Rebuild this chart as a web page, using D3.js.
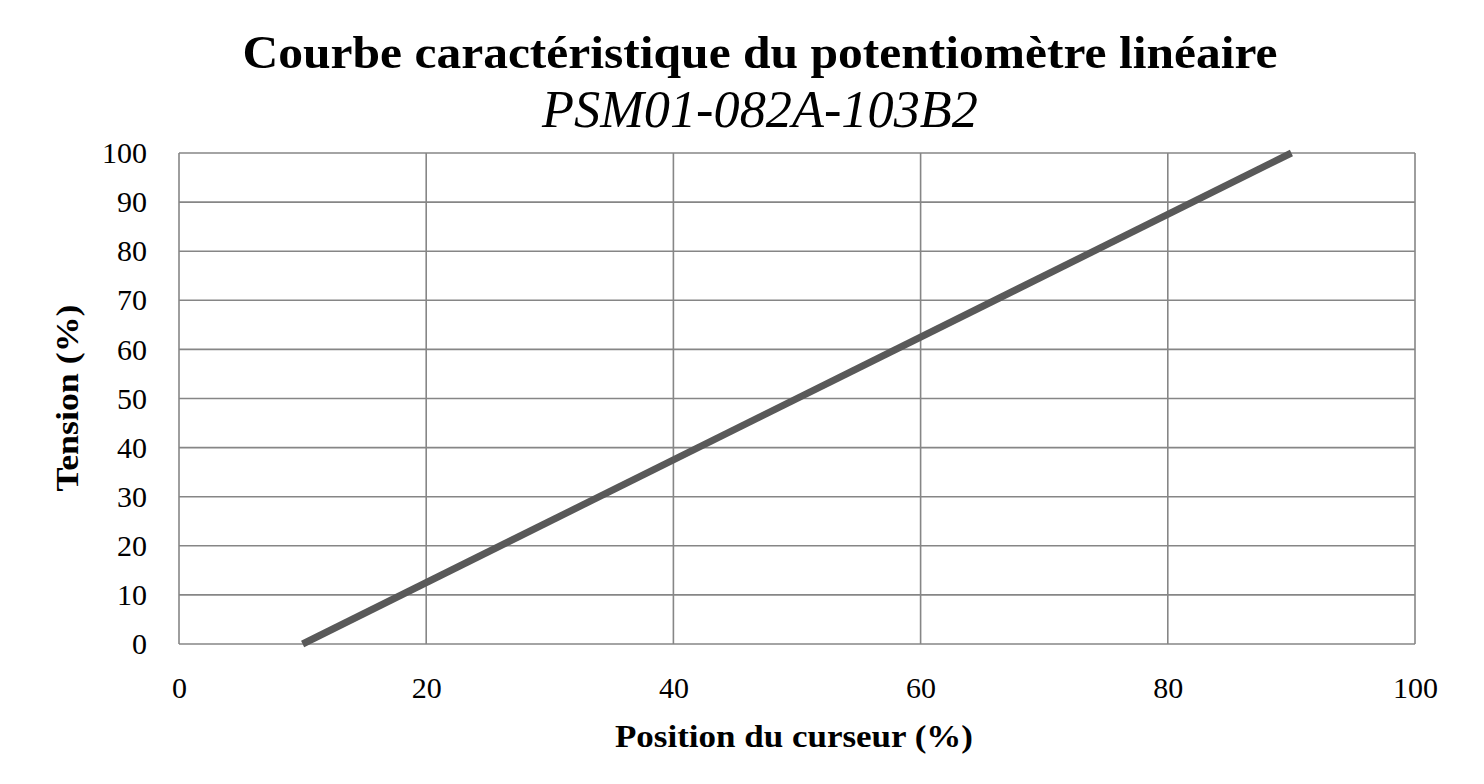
<!DOCTYPE html>
<html><head><meta charset="utf-8">
<script src="https://cdn.jsdelivr.net/npm/d3@7"></script>
<style>body{margin:0;background:#fff}svg{display:block}</style>
</head><body>
<svg id="c" width="1484" height="784"></svg>
<script>
const positions = [10, 90];
const tensions = [0, 100];
const xTicks = [0, 20, 40, 60, 80, 100];
const yTicks = [0, 10, 20, 30, 40, 50, 60, 70, 80, 90, 100];
const titleText = "Courbe caractéristique du potentiomètre linéaire";
const subtitleText = "PSM01-082A-103B2";
const xLabel = "Position du curseur (%)";
const yLabel = "Tension (%)";

const svg = d3.select("#c");
const m = {l:179, r:1415, t:153, b:644};
const x = d3.scaleLinear().domain([0,100]).range([m.l, m.r]);
const y = d3.scaleLinear().domain([0,100]).range([m.b, m.t]);
const font = "'Liberation Serif', serif";
const grid = "#868686";

// grid
svg.append("g").selectAll("line").data(yTicks).join("line")
  .attr("x1", m.l).attr("x2", m.r).attr("y1", d=>y(d)).attr("y2", d=>y(d))
  .attr("stroke", grid).attr("stroke-width", 1.6);
svg.append("g").selectAll("line").data(xTicks).join("line")
  .attr("y1", m.t).attr("y2", m.b).attr("x1", d=>x(d)).attr("x2", d=>x(d))
  .attr("stroke", grid).attr("stroke-width", 1.6);

// axes labels
const yAxis = d3.axisLeft(y).tickValues(yTicks).tickSize(0).tickPadding(32);
const ga = svg.append("g").attr("transform", `translate(${m.l},0)`).call(yAxis);
ga.select(".domain").remove();
ga.selectAll("text").attr("font-family", font).attr("font-size", 30).attr("fill", "#000");

const xAxis = d3.axisBottom(x).tickValues(xTicks).tickSize(0).tickPadding(33);
const gx = svg.append("g").attr("transform", `translate(0,${m.b})`).call(xAxis);
gx.select(".domain").remove();
gx.selectAll("text").attr("font-family", font).attr("font-size", 30).attr("fill", "#000");

// line
const data = positions.map((p,i)=>({x:p, y:tensions[i]}));
svg.append("path").datum(data)
  .attr("d", d3.line().x(d=>x(d.x)).y(d=>y(d.y)))
  .attr("fill", "none").attr("stroke", "#595959").attr("stroke-width", 7)
  .attr("stroke-linecap", "butt");

// titles
svg.append("text").attr("x", 760).attr("y", 68).attr("text-anchor", "middle")
  .attr("font-family", font).attr("font-weight", "bold").attr("font-size", 47)
  .attr("textLength", 1035).attr("lengthAdjust", "spacingAndGlyphs")
  .text(titleText);
svg.append("text").attr("x", 760).attr("y", 127).attr("text-anchor", "middle")
  .attr("font-family", font).attr("font-style", "italic").attr("font-size", 52)
  .attr("textLength", 436).attr("lengthAdjust", "spacingAndGlyphs")
  .text(subtitleText);
svg.append("text").attr("x", 794).attr("y", 747).attr("text-anchor", "middle")
  .attr("font-family", font).attr("font-weight", "bold").attr("font-size", 32)
  .attr("textLength", 358).attr("lengthAdjust", "spacingAndGlyphs")
  .text(xLabel);
svg.append("text").attr("transform", "translate(78,398) rotate(-90)").attr("text-anchor", "middle")
  .attr("font-family", font).attr("font-weight", "bold").attr("font-size", 32)
  .attr("textLength", 187).attr("lengthAdjust", "spacingAndGlyphs")
  .text(yLabel);
</script>
</body></html>
